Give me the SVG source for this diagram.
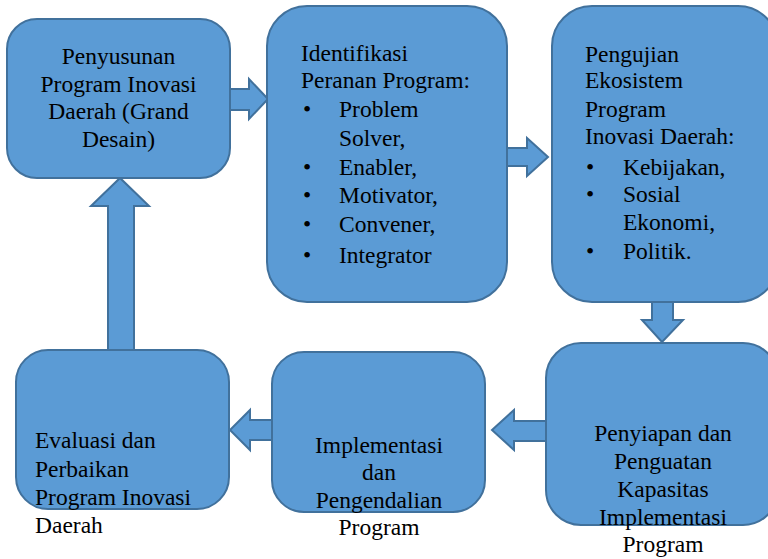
<svg xmlns="http://www.w3.org/2000/svg" width="768" height="559" viewBox="0 0 768 559" font-family="Liberation Serif, Times New Roman, serif" font-size="23.5">
<style>
.box{fill:#5B9BD5;stroke:#41719C;stroke-width:2}
.arr{fill:#5B9BD5;stroke:#41719C;stroke-width:2;stroke-linejoin:miter}
.c{text-anchor:middle}
</style>
<rect width="768" height="559" fill="#fff"/>
<g id="connectors">
<polygon class="arr" points="230,89 249,89 249,79 268,99 249,119 249,110 230,110"/>
<polygon class="arr" points="507,148 527,148 527,138 548,157 527,176 527,166 507,166"/>
<polygon class="arr" points="652,302 673,302 673,320 683,320 662,342 642,320 652,320"/>
<polygon class="arr" points="546,421 514,421 514,410 492,430 514,450 514,441 546,441"/>
<polygon class="arr" points="272,420 250,420 250,410 230,430 250,450 250,440 272,440"/>
<polygon class="arr" points="108,350 108,206 91,206 120,178 149,206 134,206 134,350"/>
</g>
<g id="n1">
<rect class="box" x="7" y="19" width="223" height="159" rx="30"/>
<text class="c" x="118.5" y="64">Penyusunan</text>
<text class="c" x="118.5" y="92">Program Inovasi</text>
<text class="c" x="118.5" y="119">Daerah (Grand</text>
<text class="c" x="118.5" y="147">Desain)</text>
</g>
<g id="n2">
<rect class="box" x="267" y="6" width="240" height="296" rx="40"/>
<text x="301" y="61">Identifikasi</text>
<text x="301" y="88">Peranan Program:</text>
<text x="307" y="117" class="c">•</text><text x="339" y="117">Problem</text>
<text x="339" y="146">Solver,</text>
<text x="307" y="175" class="c">•</text><text x="339" y="175">Enabler,</text>
<text x="307" y="203" class="c">•</text><text x="339" y="203">Motivator,</text>
<text x="307" y="232" class="c">•</text><text x="339" y="232">Convener,</text>
<text x="307" y="263" class="c">•</text><text x="339" y="263">Integrator</text>
</g>
<g id="n3">
<rect class="box" x="552" y="6" width="226" height="296" rx="40"/>
<text x="585" y="62">Pengujian</text>
<text x="585" y="88">Ekosistem</text>
<text x="585" y="117">Program</text>
<text x="585" y="144">Inovasi Daerah:</text>
<text x="590" y="175" class="c">•</text><text x="623" y="175">Kebijakan,</text>
<text x="590" y="202" class="c">•</text><text x="623" y="202">Sosial</text>
<text x="623" y="230">Ekonomi,</text>
<text x="590" y="259" class="c">•</text><text x="623" y="259">Politik.</text>
</g>
<g id="n4">
<rect class="box" x="546" y="343" width="232" height="182" rx="35"/>
<text class="c" x="663" y="441">Penyiapan dan</text>
<text class="c" x="663" y="469">Penguatan</text>
<text class="c" x="663" y="497">Kapasitas</text>
<text class="c" x="663" y="525">Implementasi</text>
<text class="c" x="663" y="552">Program</text>
</g>
<g id="n5">
<rect class="box" x="272" y="352" width="213" height="160" rx="32"/>
<text class="c" x="379" y="453">Implementasi</text>
<text class="c" x="379" y="480">dan</text>
<text class="c" x="379" y="508">Pengendalian</text>
<text class="c" x="379" y="535">Program</text>
</g>
<g id="n6">
<rect class="box" x="16" y="350" width="213" height="159" rx="32"/>
<text x="35" y="448">Evaluasi dan</text>
<text x="35" y="477">Perbaikan</text>
<text x="35" y="505">Program Inovasi</text>
<text x="35" y="533">Daerah</text>
</g>
</svg>
